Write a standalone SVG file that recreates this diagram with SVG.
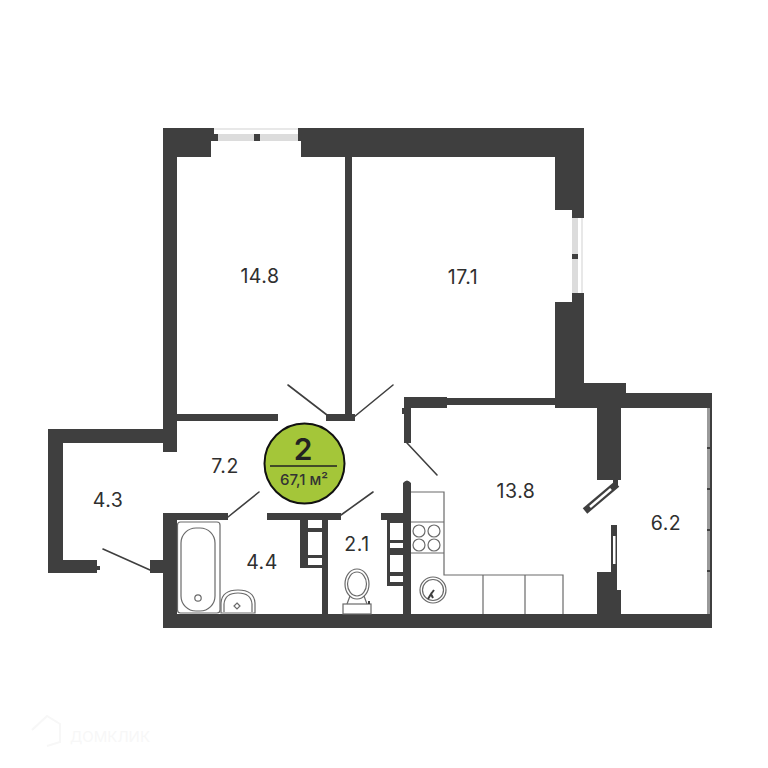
<svg xmlns="http://www.w3.org/2000/svg" width="768" height="768" viewBox="0 0 768 768">
<style>
.w{fill:#3f3f3f}
.g{fill:#dcdcdc}
.d{fill:none;stroke:#3f3f3f;stroke-width:1.6;stroke-linecap:round}
.f{fill:none;stroke:#6a6a6a;stroke-width:1.2}
.c{fill:#fff}
.l{font-family:"Inter","Open Sans","Liberation Sans",sans-serif;font-size:19.5px;letter-spacing:0.5px;fill:#2f2f2f;text-anchor:middle}
</style>
<rect width="768" height="768" fill="#fff"/>
<g id="walls">
<path class="w" d="M163 128H214V134H218V141H211V157H177V414H278V421H177V452H163V443H63V560H97V566H100V570H97V573H48V429H163Z"/>
<path class="w" d="M298 128H584V218H572V210H555V157H352V414H355V421H326V414H345V157H301V141H298Z"/>
<path class="w" d="M572 293H584V302V383H626V393H712V628H163V513H228V520H177V614H322V520H267V513H341V520H328V614H403V520H381V513H403V483Q407 478 411 483V614H597V572H611V567H617V590H621V614H707V408H621V480H618V487H613V480H597V408H555V405H447V408H411V443H404V414H402V408H404V397H447V398H555V302H572Z"/>
<rect class="w" x="150" y="560" width="13" height="13"/>
<rect class="w" x="300" y="520" width="8" height="48"/>
<rect class="w" x="308" y="565" width="14" height="3"/>
<rect class="w" x="308" y="528" width="14" height="4"/>
<rect class="w" x="308" y="555" width="14" height="3"/>
<rect class="w" x="387" y="520" width="3" height="66"/>
<rect class="w" x="390" y="520" width="13" height="3"/>
<rect class="w" x="390" y="540" width="13" height="3"/>
<rect class="w" x="390" y="548" width="13" height="7"/>
<rect class="w" x="390" y="572" width="13" height="4"/>
<rect class="w" x="390" y="582" width="13" height="4"/>
</g>
<g id="windows">
<rect x="214" y="128" width="84" height="2" fill="#e8e8e8"/>
<rect class="g" x="218" y="134" width="80" height="7"/>
<rect class="w" x="254" y="134" width="6" height="7"/>
<rect class="g" x="572" y="218" width="6" height="75"/>
<rect x="581" y="218" width="2" height="75" fill="#e8e8e8"/>
<rect class="w" x="572" y="254" width="6" height="5"/>
<rect x="707" y="408" width="3.500" height="206" fill="#9a9a9a"/>
<rect class="w" x="710" y="408" width="2" height="206"/>
<rect class="w" x="707" y="447" width="4" height="2"/>
<rect class="w" x="707" y="488" width="4" height="2"/>
<rect class="w" x="707" y="529" width="4" height="2"/>
<rect class="w" x="707" y="570" width="4" height="2"/>
</g>
<g id="connectors">
<line class="d" x1="288" y1="385" x2="327" y2="415"/>
<line class="d" x1="354" y1="417" x2="393" y2="385"/>
<line class="d" x1="228" y1="517" x2="259" y2="492"/>
<line class="d" x1="341" y1="515" x2="373" y2="492"/>
<line class="d" x1="103" y1="549" x2="150" y2="570"/>
<line class="d" x1="407" y1="443" x2="437" y2="475"/>
<path d="M585 511L617 484" stroke="#3f3f3f" stroke-width="7" fill="none"/>
<path d="M590 507L611 489" stroke="#fff" stroke-width="2.500" fill="none"/>
<rect class="w" x="611" y="525" width="6" height="42"/>
<rect class="c" x="613" y="536" width="2.500" height="28"/>
</g>
<g id="bath">
<rect class="f" x="177.500" y="522" width="42.500" height="91" rx="3"/>
<rect class="f" x="181" y="528" width="34" height="83" rx="15"/>
<circle class="f" cx="198" cy="598" r="3.200"/>
<path class="f" d="M221 613V603Q222 590 238 590Q254 590 255 603V613Z"/>
<path class="f" d="M224 612V604Q225 593 238 593Q251 593 252 604V612"/>
<path class="f" d="M237 603L240 606L237 609L234 606Z"/>
</g>
<g id="toilet">
<ellipse class="f" cx="357" cy="584" rx="12" ry="15"/>
<ellipse class="f" cx="357" cy="584" rx="9.500" ry="12"/>
<path class="f" d="M350 596L347 604M364 596L367 604"/>
<rect class="f" x="343" y="604" width="28" height="10"/>
<rect class="w" x="368" y="601" width="2" height="3"/>
</g>
<g id="kitchen">
<path class="f" d="M411 492H444V575H563V614M411 522H444M411 553H444M444 553V575M483 575V614M525 575V614"/>
<circle class="f" cx="419" cy="531" r="6"/>
<circle class="f" cx="434" cy="531" r="6"/>
<circle class="f" cx="419" cy="545" r="6"/>
<circle class="f" cx="434" cy="545" r="6"/>
<circle class="f" cx="433" cy="590" r="13"/>
<circle class="f" cx="433" cy="590" r="10.500"/>
<path d="M428 599L431 594L433 598M431 594L434 590" stroke="#3f3f3f" stroke-width="2" fill="none"/>
</g>
<g id="badge">
<circle cx="304.500" cy="463.500" r="40" fill="#a4c639" stroke="#111" stroke-width="2"/>
<line x1="270" y1="466" x2="337" y2="466" stroke="#222" stroke-width="1.500"/>
<text x="303" y="460" font-family="Inter,'Open Sans','Liberation Sans',sans-serif" font-size="30" font-weight="600" fill="#222" text-anchor="middle">2</text>
<text x="304" y="485" font-family="Inter,'Open Sans','Liberation Sans',sans-serif" font-size="15" font-weight="500" fill="#333" text-anchor="middle">67,1 м²</text>
</g>
<g id="labels">
<text class="l" x="260" y="283">14.8</text>
<text class="l" x="463" y="284">17.1</text>
<text class="l" x="225" y="473">7.2</text>
<text class="l" x="108" y="507">4.3</text>
<text class="l" x="262" y="569">4.4</text>
<text class="l" x="357" y="551">2.1</text>
<text class="l" x="516" y="498">13.8</text>
<text class="l" x="666" y="530">6.2</text>
</g>
<g id="watermark">
<path d="M32 730L47 716L60 724V742L47 746" fill="none" stroke="#f7f7f7" stroke-width="2"/>
<text x="70" y="742" font-family="Inter,'Liberation Sans',sans-serif" font-size="15" fill="#f7f7f7">ДОМКЛИК</text>
</g>
</svg>
